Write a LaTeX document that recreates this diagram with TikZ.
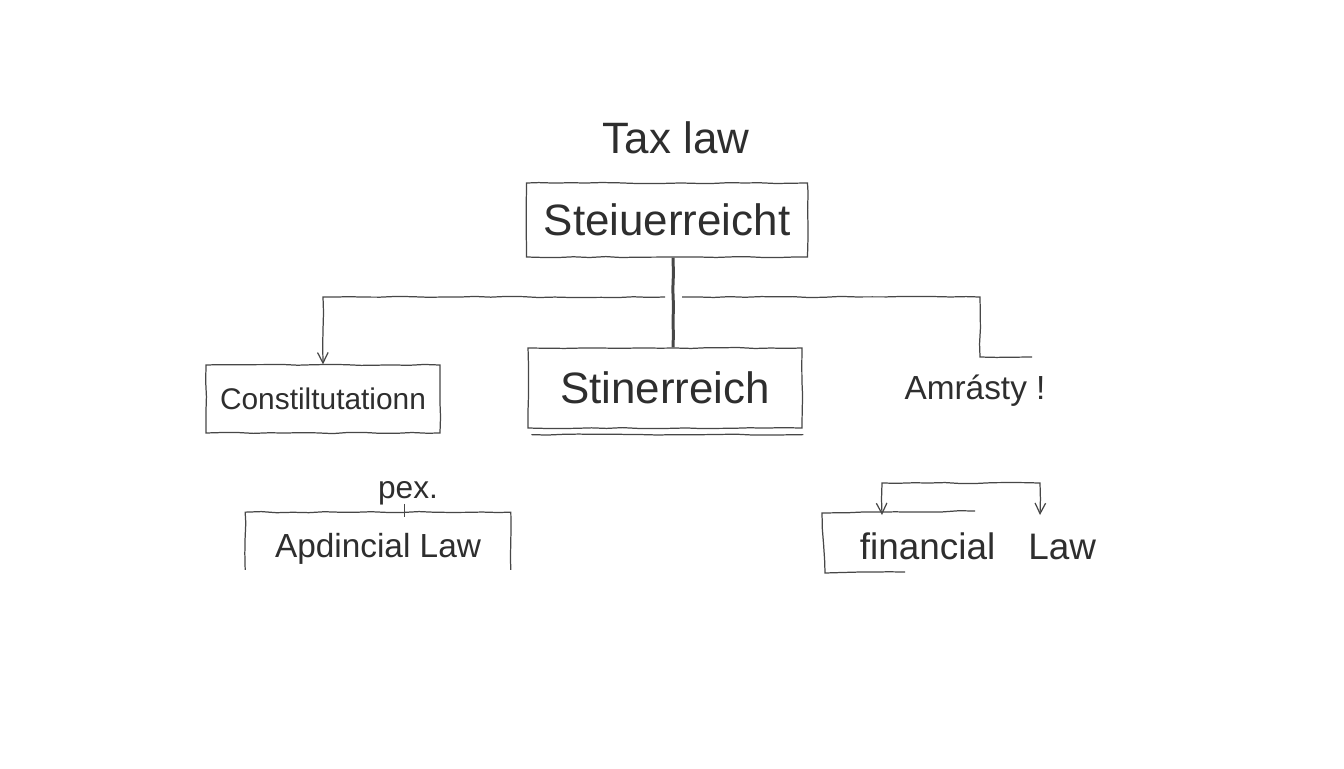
\documentclass[tikz,border=0pt]{standalone}
\usepackage{fontspec}
\setmainfont{Liberation Sans}
\usetikzlibrary{arrows.meta,decorations.pathmorphing}

\begin{document}
\begin{tikzpicture}[x=0.02cm, y=-0.02cm,
		pencil/.style={draw=black!72, line width=0.7pt, decorate, decoration={random steps, segment length=9pt, amplitude=0.35pt}},
		sketchbox/.style={pencil, rectangle, inner sep=0pt},
		bigtext/.style={font=\fontsize{25}{30}\selectfont, text=black!82},
		midtext/.style={font=\fontsize{18}{22}\selectfont, text=black!82},
		barb/.style={-{Straight Barb[length=6pt, width=6pt]}}]
			\useasboundingbox (0, 0) rectangle (1344, 768);

			\draw (676, 138) 	node[bigtext] 										(taxlaw) 	{Tax law};
			\draw (667, 220) 	node[sketchbox, bigtext, minimum width=5.62cm, minimum height=1.48cm] 	(steuer) 	{Steiuerreicht};
			\draw (665, 388) 	node[sketchbox, bigtext, minimum width=5.48cm, minimum height=1.60cm] 	(stiner) 	{Stinerreich};
			\draw (323, 399) 	node[sketchbox, midtext, font=\fontsize{17}{20}\selectfont, minimum width=4.68cm, minimum height=1.36cm] 	(const) 	{Constiltutationn};
			\draw (975, 391) 	node[midtext, font=\fontsize{19}{22}\selectfont] 	(amnesty) 	{Amrásty !};
			\draw (408, 493) 	node[midtext] 										(pex) 		{pex.};
			\draw (378, 541) 	node[midtext, font=\fontsize{19}{22}\selectfont, minimum width=5.30cm, minimum height=1.14cm, inner sep=0pt, text height=19pt, text depth=0pt] 	(apd) 	{Apdincial Law};
			\draw (978, 546) 	node[midtext, font=\fontsize{21}{24}\selectfont] 	(fin) 		{financial\hspace{0.9em}Law};

			\coordinate (jl) 	at (665, 297);
			\coordinate (jr) 	at (682, 297);
			\coordinate (bend) 	at (980, 297);
			\coordinate (amend) at (1032, 357);
			\coordinate (f1) 	at (882, 515);
			\coordinate (f2) 	at (1040, 515);

			% trunk and branches
			\draw[pencil, line width=1.7pt] (steuer.south -| 673, 0) -- (stiner.north -| 673, 0);
			\draw[pencil, barb] (jl) -| (const.north);
			\draw[pencil] (jr) -- (bend) |- (amend);
			\draw[pencil] (stiner.south west) ++(4, 6) -- ++(272, 0);

			% open boxes
			\draw[pencil] (apd.south west) -- (apd.north west) -- (apd.north east) -- (apd.south east);
			\draw[draw=black!72, line width=1.1pt] ([xshift=-2pt, yshift=4pt]pex.south) -- ([xshift=-2pt, yshift=-3pt]pex.south |- apd.north);
			\draw[pencil] (975, 511) -- (822, 513) -- (825, 573) -- (905, 572);
			\draw[pencil, {Straight Barb[length=6pt, width=6pt]}-{Straight Barb[length=6pt, width=6pt]}] (f1) -- ++(0, -32) -| (f2);
		\end{tikzpicture}
\end{document}
